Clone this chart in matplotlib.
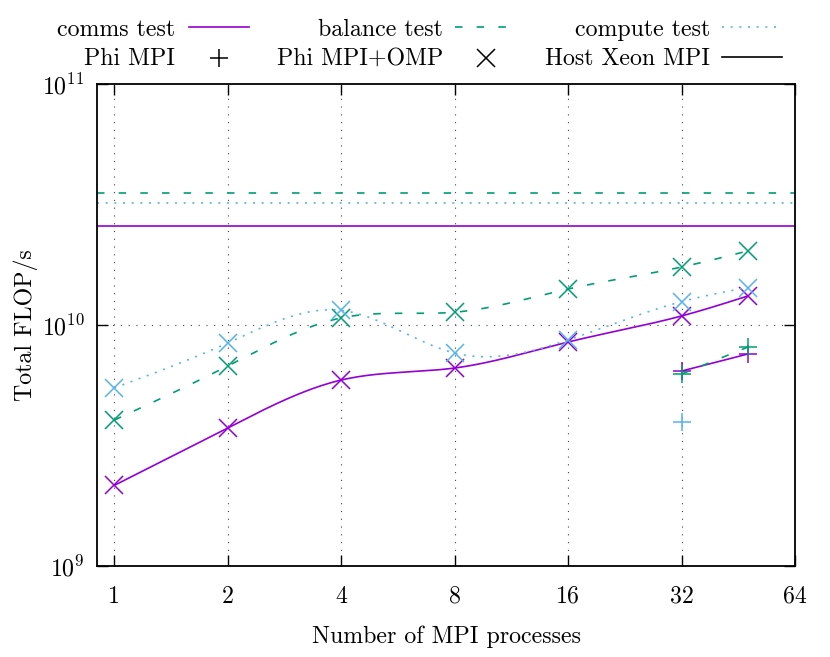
import numpy as np
import matplotlib
matplotlib.use("Agg")
import matplotlib.pyplot as plt
from matplotlib.lines import Line2D

plt.rcParams['font.family'] = ['cmr10', 'DejaVu Serif']
plt.rcParams['mathtext.fontset'] = 'cm'
plt.rcParams['axes.formatter.use_mathtext'] = True

FS = 17.2

# ---- data ----
procs_omp = [1, 2, 4, 8, 16, 32, 48]
comms_omp = [2.16e9, 3.74e9, 5.91e9, 6.63e9, 8.5e9, 1.09e10, 1.32e10]
balance_omp = [4.03e9, 6.76e9, 1.07e10, 1.13e10, 1.41e10, 1.74e10, 2.03e10]
compute_omp = [5.48e9, 8.42e9, 1.15e10, 7.65e9, 8.67e9, 1.25e10, 1.43e10]

procs_mpi = [32, 48]
comms_mpi = [6.44e9, 7.58e9]
balance_mpi = [6.26e9, 8.1e9]
procs_mpi_compute = [32]
compute_mpi = [3.96e9]

host_comms = 2.58e10
host_balance = 3.53e10
host_compute = 3.21e10

xticks = [1, 2, 4, 8, 16, 32, 64]
xticklabels = ['1', '2', '4', '8', '16', '32', '64']
yticks = [1e9, 1e10, 1e11]
yticklabels = ['$10^{9}$', '$10^{10}$', '$10^{11}$']

PURPLE = '#9400D3'
GREEN = '#009E73'
BLUE = '#56B4E9'

def natural_spline(x, y, n=300):
    x = np.asarray(x, float); y = np.asarray(y, float)
    m = len(x)
    if m < 3:
        xs = np.linspace(x[0], x[-1], n)
        return xs, np.interp(xs, x, y)
    h = np.diff(x)
    A = np.zeros((m, m)); b = np.zeros(m)
    A[0, 0] = 1; A[-1, -1] = 1
    for i in range(1, m - 1):
        A[i, i - 1] = h[i - 1]
        A[i, i] = 2 * (h[i - 1] + h[i])
        A[i, i + 1] = h[i]
        b[i] = 6 * ((y[i + 1] - y[i]) / h[i] - (y[i] - y[i - 1]) / h[i - 1])
    M = np.linalg.solve(A, b)
    xs = np.linspace(x[0], x[-1], n)
    idx = np.clip(np.searchsorted(x, xs) - 1, 0, m - 2)
    x0 = x[idx]; x1 = x[idx + 1]; hh = x1 - x0
    y0 = y[idx]; y1 = y[idx + 1]; M0 = M[idx]; M1 = M[idx + 1]
    t1 = x1 - xs; t0 = xs - x0
    ys = (M0 * t1**3 + M1 * t0**3) / (6 * hh) + (y0 / hh - M0 * hh / 6) * t1 + (y1 / hh - M1 * hh / 6) * t0
    return xs, ys

def smooth(xv, yv):
    lx, ly = natural_spline(np.log2(xv), np.log10(yv))
    return 2 ** lx, 10 ** ly

W, H = 830, 657
fig = plt.figure(figsize=(W / 100, H / 100), dpi=100)
L, R, T, B = 97, 795, 84, 566
ax = fig.add_axes([L / W, 1 - B / H, (R - L) / W, (B - T) / H])
ax.set_xscale('log', base=2)
ax.set_yscale('log')
ax.set_xlim(0.9, 64)
ax.set_ylim(1e9, 1e11)

lw = 1.2
dash = (0, (4.5, 8.5))
dot = (0, (1.2, 4.0))
ms = 13
mew = 1.1

# host lines
ax.axhline(host_comms, color=PURPLE, lw=lw, ls='-')
ax.axhline(host_balance, color=GREEN, lw=lw, ls=dash)
ax.axhline(host_compute, color=BLUE, lw=lw, ls=dot)

for xv, yv, c, ls in [(procs_omp, comms_omp, PURPLE, '-'),
                      (procs_omp, balance_omp, GREEN, dash),
                      (procs_omp, compute_omp, BLUE, dot)]:
    sx, sy = smooth(xv, yv)
    ax.plot(sx, sy, color=c, lw=lw, ls=ls)
    ax.plot(xv, yv, ls='none', marker='x', ms=ms, mew=mew, color=c)

for xv, yv, c, ls in [(procs_mpi, comms_mpi, PURPLE, '-'),
                      (procs_mpi, balance_mpi, GREEN, dash),
                      (procs_mpi_compute, compute_mpi, BLUE, dot)]:
    if len(xv) > 1:
        sx, sy = smooth(xv, yv)
        ax.plot(sx, sy, color=c, lw=lw, ls=ls)
    ax.plot(xv, yv, ls='none', marker='+', ms=ms, mew=mew, color=c)

# grid
for xt in xticks[:-1]:
    ax.axvline(xt, color='#444444', lw=0.8, ls=(0, (1, 6)), zorder=0)
ax.axhline(1e10, color='#444444', lw=0.8, ls=(0, (1, 6)), zorder=0)

ax.set_xticks(xticks)
ax.set_xticklabels(xticklabels, fontsize=FS)
ax.set_yticks(yticks)
ax.set_yticklabels(yticklabels, fontsize=FS)
ax.minorticks_off()
ax.tick_params(which='major', direction='in', length=8, width=1.0,
               top=True, right=True)
ax.tick_params(axis='x', pad=14)
ax.tick_params(axis='y', pad=9)
for s in ax.spines.values():
    s.set_linewidth(1.3)

ax.set_xlabel('Number of MPI processes', fontsize=FS, va='baseline')
ax.xaxis.set_label_coords(0.5, (B - 643) / (B - T))
ax.set_ylabel('Total FLOP/s', fontsize=FS, va='center')
ax.yaxis.set_label_coords((26 - L) / (R - L), 0.5)

# legend (gnuplot style, manual)
def fx(x): return x / W
def fy(y): return 1 - y / H

rows = [
    [('comms test', dict(color=PURPLE, ls='-')),
     ('balance test', dict(color=GREEN, ls=dash)),
     ('compute test', dict(color=BLUE, ls=dot))],
    [('Phi MPI', dict(color='black', ls='none', marker='+')),
     ('Phi MPI+OMP', dict(color='black', ls='none', marker='x')),
     ('Host Xeon MPI', dict(color='black', ls='-'))],
]
text_right = [175, 443, 710]
samp = [(189, 249), (455, 516), (722, 782)]
base_y = [36, 65]
line_y = [27, 57]
for r, row in enumerate(rows):
    for c, (label, st) in enumerate(row):
        fig.text(fx(text_right[c]), fy(base_y[r]), label, ha='right', va='baseline',
                 fontsize=FS)
        x0, x1 = samp[c]
        if st.get('marker'):
            fig.add_artist(Line2D([fx((x0 + x1) / 2)], [fy(line_y[r] + 1)], transform=fig.transFigure,
                                  color='black', ls='none', marker=st['marker'], ms=ms, mew=mew))
        else:
            fig.add_artist(Line2D([fx(x0), fx(x1)], [fy(line_y[r]), fy(line_y[r])],
                                  transform=fig.transFigure, color=st['color'], ls=st['ls'], lw=lw))

fig.savefig('out.png', dpi=100)
